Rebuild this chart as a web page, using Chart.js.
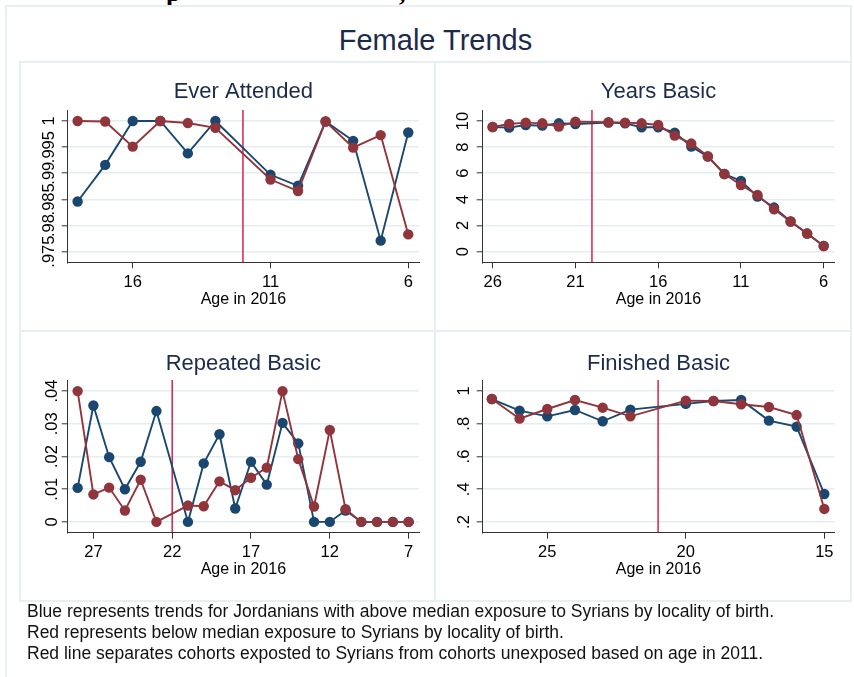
<!DOCTYPE html>
<html><head><meta charset="utf-8">
<script src="https://cdn.jsdelivr.net/npm/chart.js@4.4.0/dist/chart.umd.min.js"></script>
<style>
html,body{margin:0;padding:0;background:#fff;}
body{width:854px;height:677px;position:relative;overflow:hidden;font-family:"Liberation Sans",Arial,sans-serif;}
canvas{position:absolute;}
.ln{position:absolute;background:#e8eff2;}
#title{position:absolute;left:285.5px;width:300px;top:22px;line-height:36px;font-size:29px;text-align:center;color:#1c2a4c;}
#note{position:absolute;left:27px;top:601px;font-size:17.5px;line-height:21px;color:#111;white-space:nowrap;}
.cut{position:absolute;top:-20px;font-family:"Liberation Serif","Times New Roman",serif;font-weight:bold;font-size:26px;line-height:26px;color:#000;}
</style></head><body>
<div class="cut" style="left:166px">p</div>
<div class="cut" style="left:399px">,</div>
<div id="title">Female Trends</div>
<canvas id="c1" width="415" height="269" style="left:20px;top:62px"></canvas>
<canvas id="c2" width="415" height="269" style="left:435px;top:62px"></canvas>
<canvas id="c3" width="415" height="270" style="left:20px;top:331px"></canvas>
<canvas id="c4" width="415" height="270" style="left:435px;top:331px"></canvas>
<div class="ln" style="left:5px;top:5px;width:2px;height:672px"></div>
<div class="ln" style="left:5px;top:5px;width:847px;height:2px"></div>
<div class="ln" style="left:850px;top:5px;width:2px;height:597px"></div>
<div class="ln" style="left:19px;top:61px;width:833px;height:2px"></div>
<div class="ln" style="left:19px;top:330px;width:833px;height:2px"></div>
<div class="ln" style="left:19px;top:600px;width:833px;height:2px"></div>
<div class="ln" style="left:19px;top:61px;width:2px;height:541px"></div>
<div class="ln" style="left:434px;top:61px;width:2px;height:541px"></div>
<div id="note">Blue represents trends for Jordanians with above median exposure to Syrians by locality of birth.<br>Red represents below median exposure to Syrians by locality of birth.<br>Red line separates cohorts exposted to Syrians from cohorts unexposed based on age in 2011.</div>
<script>
// ---- Ever Attended ----
const everAges = [18,17,16,15,14,13,11,10,9,8,7,6];
const everBlue = [0.9846,0.9916,1.0,1.0,0.9938,1.0,0.9897,0.9876,0.9999,0.9962,0.9771,0.9978];
const everRed  = [1.0,0.9999,0.9951,1.0,0.9996,0.9987,0.9888,0.9866,0.9999,0.9949,0.9973,0.9783];
const everYTicks = [0.975,0.98,0.985,0.99,0.995,1];
const everYLabels = [".975",".98",".985",".99",".995","1"];
const everXTicks = [16,11,6];
const everCut = 12;

// ---- Years Basic ----
const yearsAges = [26,25,24,23,22,21,19,18,17,16,15,14,13,12,11,10,9,8,7,6];
const yearsBlue = [9.54,9.49,9.69,9.64,9.82,9.77,9.87,9.82,9.52,9.52,9.11,8.04,7.27,5.94,5.41,4.21,3.37,2.30,1.38,0.43];
const yearsRed  = [9.54,9.77,9.87,9.82,9.57,9.95,9.90,9.87,9.82,9.69,8.88,8.27,7.30,5.94,5.10,4.34,3.24,2.30,1.38,0.43];
const yearsYTicks = [0,2,4,6,8,10];
const yearsYLabels = ["0","2","4","6","8","10"];
const yearsXTicks = [26,21,16,11,6];
const yearsCut = 20;

// ---- Repeated Basic ----
const repAges = [28,27,26,25,24,23,21,20,19,18,17,16,15,14,13,12,11,10,9,8,7];
const repBlue = [0.0104,0.0356,0.0198,0.0100,0.0184,0.0339,0,0.0179,0.0268,0.0041,0.0184,0.0114,0.0303,0.0240,0,0,0.0035,0,0,0,0];
const repRed  = [0.040,0.0084,0.0105,0.0035,0.0129,0,0.0050,0.0048,0.0124,0.0097,0.0135,0.0166,0.040,0.0192,0.0047,0.0281,0.0039,0,0,0,0];
const repYTicks = [0,0.01,0.02,0.03,0.04];
const repYLabels = ["0",".01",".02",".03",".04"];
const repXTicks = [27,22,17,12,7];
const repCut = 22;

// ---- Finished Basic ----
const finAges = [27,26,25,24,23,22,20,19,18,17,16,15];
const finBlue = [0.951,0.880,0.845,0.884,0.815,0.886,0.921,0.939,0.945,0.819,0.782,0.371];
const finRed  = [0.951,0.831,0.890,0.945,0.898,0.845,0.941,0.939,0.919,0.902,0.853,0.280];
const finYTicks = [0.2,0.4,0.6,0.8,1];
const finYLabels = [".2",".4",".6",".8","1"];
const finXTicks = [25,20,15];
const finCut = 21;

const BLUE = '#1a476f', RED = '#90353b', VLINE = '#d2143f';
const TEXT = '#000', TITLE = '#1c2a4c';
Chart.defaults.font.family = "'Liberation Sans', Arial, sans-serif";
Chart.defaults.color = TEXT;

function panel(id, p) {
  const pts = (ys) => p.ages.map((a, i) => ({x: a, y: ys[i]}));
  new Chart(document.getElementById(id), {
    type: 'line',
    data: {
      datasets: [
        {data: pts(p.red), borderColor: RED, backgroundColor: RED, borderWidth: 1.9,
         pointRadius: 5.2, pointBorderWidth: 0, pointBackgroundColor: RED, tension: 0},
        {data: pts(p.blue), borderColor: BLUE, backgroundColor: BLUE, borderWidth: 1.9,
         pointRadius: 5.2, pointBorderWidth: 0, pointBackgroundColor: BLUE, tension: 0},
        {data: [{x: p.cut, y: p.ymin}, {x: p.cut, y: p.ymax}], borderColor: VLINE,
         borderWidth: 1.4, pointRadius: 0}
      ]
    },
    options: {
      responsive: false, animation: false, devicePixelRatio: 1,
      events: [],
      layout: {padding: {left: 0, right: p.rightPad, top: 0, bottom: 0}},
      plugins: {
        legend: {display: false}, tooltip: {enabled: false},
        title: {display: true, text: p.title, fullSize: false, color: TITLE,
                font: {size: 22, weight: 'normal', lineHeight: 1.2},
                padding: {top: p.tTop, bottom: p.tBot}}
      },
      scales: {
        x: {
          type: 'linear', reverse: true, min: p.xmin, max: p.xmax,
          afterBuildTicks: (s) => { s.ticks = p.xTicks.map(v => ({value: v})); },
          afterFit: (s) => { s.height = p.bottomSpace; },
          ticks: {autoSkip: false, maxRotation: 0, minRotation: 0, padding: 4,
                  font: {size: 16.5}, color: TEXT, callback: (v) => String(v)},
          grid: {drawOnChartArea: false, drawTicks: true, tickLength: 6, tickColor: '#333', tickWidth: 1},
          border: {display: true, color: '#333', width: 1},
          title: {display: true, text: 'Age in 2016', color: TEXT, font: {size: 16, lineHeight: 1.2},
                  padding: {top: 0, bottom: 21.4}}
        },
        y: {
          type: 'linear', min: p.ymin, max: p.ymax,
          afterBuildTicks: (s) => { s.ticks = p.yTicks.map(v => ({value: v})); },
          afterFit: (s) => { s.width = 47.7; },
          ticks: {autoSkip: false, minRotation: 90, maxRotation: 90, crossAlign: 'center',
                  padding: p.yPad, font: {size: 16.5}, color: TEXT,
                  callback: (v, i) => p.yLabels[i]},
          grid: {color: '#e4edf0', lineWidth: 1.6, drawTicks: true, tickLength: 6, tickColor: '#333', tickWidth: 1},
          border: {display: true, color: '#333', width: 1}
        }
      }
    }
  });
}

panel('c1', {title: 'Ever Attended', ages: everAges, blue: everBlue, red: everRed,
  yTicks: everYTicks, yLabels: everYLabels, xTicks: everXTicks, cut: everCut,
  ymin: 0.97296, ymax: 1.0021, xmin: 5.61, xmax: 18.36,
  rightPad: 16, tTop: 16.8, tBot: 4.8, bottomSpace: 68.7, yPad: -3.6});
panel('c2', {title: 'Years Basic', ages: yearsAges, blue: yearsBlue, red: yearsRed,
  yTicks: yearsYTicks, yLabels: yearsYLabels, xTicks: yearsXTicks, cut: yearsCut,
  ymin: -0.82, ymax: 10.84, xmin: 5.36, xmax: 26.6,
  rightPad: 15.7, tTop: 16.8, tBot: 4.8, bottomSpace: 68.7, yPad: 3.8});
panel('c3', {title: 'Repeated Basic', ages: repAges, blue: repBlue, red: repRed,
  yTicks: repYTicks, yLabels: repYLabels, xTicks: repXTicks, cut: repCut,
  ymin: -0.0033, ymax: 0.0434, xmin: 6.34, xmax: 28.63,
  rightPad: 16, tTop: 19.8, tBot: 2.8, bottomSpace: 68.3, yPad: -2.3});
panel('c4', {title: 'Finished Basic', ages: finAges, blue: finBlue, red: finRed,
  yTicks: finYTicks, yLabels: finYLabels, xTicks: finXTicks, cut: finCut,
  ymin: 0.135, ymax: 1.067, xmin: 14.64, xmax: 27.33,
  rightPad: 15.7, tTop: 19.8, tBot: 2.8, bottomSpace: 68.3, yPad: 5.1});
</script>
</body></html>
